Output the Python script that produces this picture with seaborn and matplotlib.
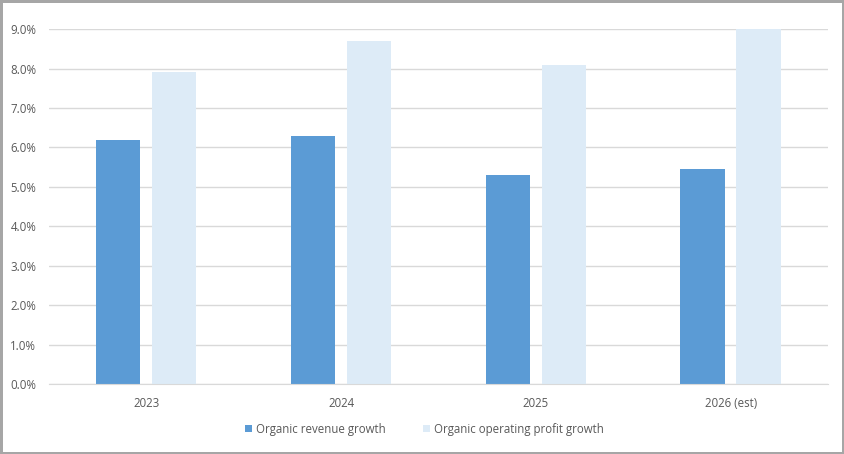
import matplotlib
matplotlib.use("Agg")
import matplotlib.pyplot as plt
import seaborn as sns
import pandas as pd
from matplotlib.ticker import FuncFormatter

# ── data ─────────────────────────────────────────────
years = ["2023", "2024", "2025", "2026 (est)"]
revenue_growth = [6.2, 6.3, 5.3, 5.45]
profit_growth = [7.9, 8.7, 8.1, 9.0]
series_names = ["Organic revenue growth", "Organic operating profit growth"]

df = pd.DataFrame({
    "year": years * 2,
    "value": revenue_growth + profit_growth,
    "series": [series_names[0]] * len(years) + [series_names[1]] * len(years),
})

sns.set_style("white")
plt.rcParams["font.family"] = ["Open Sans", "DejaVu Sans"]

fig = plt.figure(figsize=(8.44, 4.54), dpi=100, edgecolor="#a6a6a6", linewidth=2.5)
ax = fig.add_axes([0.058, 0.154, 0.923, 0.782])

sns.barplot(data=df, x="year", y="value", hue="series",
            palette=["#5b9bd5", "#ddebf7"], width=0.575, gap=0.21,
            saturation=1, linewidth=0, ax=ax, legend=True)

ax.set_ylim(0, 9)
ax.set_xlim(-0.5, 3.5)
ax.set_yticks(range(0, 10))
ax.yaxis.set_major_formatter(FuncFormatter(lambda v, _: f"{v:.1f}%"))
ax.grid(axis="y", color="#d9d9d9", linewidth=1)
ax.set_axisbelow(True)
for s in ["top", "right", "left"]:
    ax.spines[s].set_visible(False)
ax.spines["bottom"].set_color("#d9d9d9")
ax.tick_params(axis="both", length=0, labelsize=8.3, colors="#595959")
ax.tick_params(axis="x", pad=9)
ax.tick_params(axis="y", pad=9)
ax.set_xlabel("")
ax.set_ylabel("")

ax.legend(loc="upper center", bbox_to_anchor=(0.482, -0.08), ncol=2, frameon=False,
          fontsize=8.3, handlelength=0.6, handleheight=0.6, handletextpad=0.3,
          columnspacing=3.3, labelcolor="#595959")

fig.savefig("out.png", dpi=100)
